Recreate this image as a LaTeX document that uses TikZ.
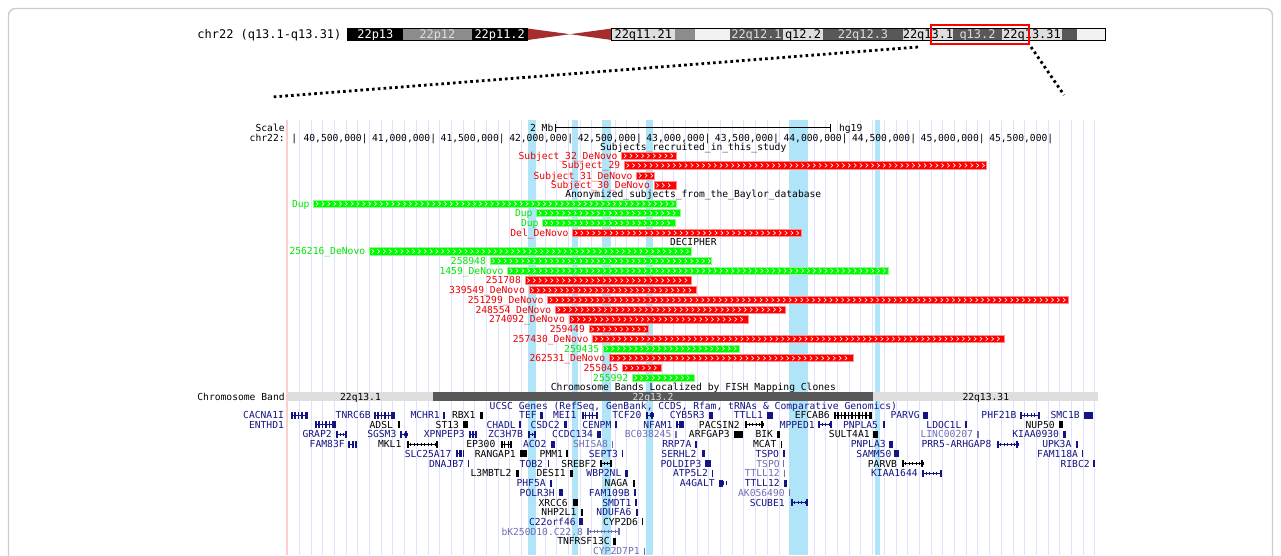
\documentclass[tikz,border=0pt]{standalone}
\usepackage{fontspec}
\setmonofont{DejaVu Sans Mono}
\usepackage{tikz}
\usetikzlibrary{positioning}
\definecolor{cytoDark}{RGB}{88,88,88}
\definecolor{cytoMid}{RGB}{140,140,140}
\definecolor{cytoLight}{RGB}{222,222,222}
\definecolor{cytoPale}{RGB}{242,242,242}
\definecolor{cenRed}{RGB}{165,45,45}
\definecolor{gridLav}{RGB}{224,224,255}
\definecolor{hiBlue}{RGB}{176,228,248}
\definecolor{basePink}{RGB}{255,205,205}
\definecolor{cnvRed}{RGB}{255,0,0}
\definecolor{cnvGreen}{RGB}{0,250,0}
\definecolor{geneBlue}{RGB}{20,20,130}
\definecolor{geneLight}{RGB}{110,110,180}
\definecolor{framegray}{RGB}{205,205,205}
\newcommand{\trackfont}{\fontsize{5.5pt}{6pt}\selectfont\ttfamily}
\newcommand{\ideofont}{\fontsize{6.8pt}{7pt}\selectfont\ttfamily}

\begin{document}
\begin{tikzpicture}[
  x=0.02cm, y=-0.02cm,
  lbl/.style={inner sep=0pt, anchor=east, font=\trackfont, text height=4pt, text depth=0pt},
  ttl/.style={inner sep=0pt, font=\trackfont, text height=4pt, text depth=0pt},
  ideo/.style={inner sep=0pt, font=\ideofont, text height=4.9pt, text depth=0pt},
  guide/.style={draw=gridLav, line width=0.5pt},
  chev/.style={draw=white, line width=0.35pt},
  zoomline/.style={line width=1.6pt, dash pattern=on 1.5pt off 1.8pt}
]
\useasboundingbox (0,0) rectangle (1281,555);
\clip (0,0) rectangle (1281,555);
\fill[white] (0,0) rectangle (1281,555);
\draw[framegray, line width=0.8pt, rounded corners=4pt] (8.5,8.5) rectangle (1272.5,620);

% ideogram
\node[ideo, anchor=east] (chrname) at (341.7,34.3) {chr22 (q13.1-q13.31)};
\foreach \xa/\xb/\bfill/\tc/\lab in {347.7/403/black/white/22p13,403/471.7/cytoMid/cytoLight/22p12,
  471.7/527.7/black/white/22p11.2,611.7/675/cytoLight/black/22q11.21,675/695/cytoMid/black/{},
  695/730/cytoPale/black/{},730/783/cytoDark/cytoLight/22q12.1,783/823/cytoLight/black/q12.2,
  823/903/cytoDark/cytoLight/22q12.3,903/953/cytoLight/black/22q13.1,953/1002/cytoDark/cytoLight/q13.2,
  1002/1062/cytoLight/black/22q13.31,1062/1077/cytoDark/black/{},1077/1105/cytoPale/black/{}}
{
  \fill[\bfill] (\xa,28.5) rectangle (\xb,40);
  \node[ideo, text=\tc] at ({(\xa+\xb)/2},34.3) {\lab};
}
\fill[cenRed] (527.7,28.5) -- (570,34.2) -- (527.7,40) -- cycle;
\fill[cenRed] (611.7,28.5) -- (570,34.2) -- (611.7,40) -- cycle;
\draw[line width=0.5pt] (347.7,28.5) rectangle (527.7,40);
\draw[line width=0.5pt] (611.7,28.5) rectangle (1105,40);
\draw[red, line width=1.6pt] (931,25) rectangle (1029,44);

% zoom lines
\coordinate (selL) at (918,47);
\coordinate (selR) at (1031,47);
\coordinate (panelL) at (272,97);
\coordinate (panelR) at (1064,95);
\draw[zoomline] (selL) -- (panelL);
\draw[zoomline] (selR) -- (panelR);

% browser background
\foreach \i in {0,...,68}
  \draw[guide] (299.3+11.7*\i,120) -- (299.3+11.7*\i,555);
\foreach \xa/\xb in {528.3/536,571.7/578.3,601.7/611,646/653.3,789.3/808.3,875/880}
  \fill[hiBlue] (\xa,120) rectangle (\xb,555);
\draw[basePink, line width=0.6pt] (287,120) -- (287,555);

% ruler
\node[lbl] (scalelbl) at (285,127.7) {Scale};
\node[lbl] (chrlbl) at (285,138.3) {chr22:};
\coordinate (sbL) at (555.7,127.7);
\coordinate (sbR) at (830.7,127.7);
\draw[line width=0.5pt] (sbL) -- (sbR);
\draw[line width=0.5pt] (555.7,123.5) -- (555.7,132);
\draw[line width=0.5pt] (830.7,123.5) -- (830.7,132);
\node[lbl, left=0.4mm of sbL] (mb) {2 Mb};
\node[lbl, right=1.6mm of sbR] (hg) {hg19};
\node[ttl] (tick-start) at (294.3,138.3) {|};
\foreach \lab [count=\k from 0] in {{40,500,000},{41,000,000},{41,500,000},{42,000,000},{42,500,000},
  {43,000,000},{43,500,000},{44,000,000},{44,500,000},{45,000,000},{45,500,000}}
  \node[lbl] (tick\k) at (365+68.57*\k+2.9,138.3) {\lab|};

% track titles
\node[ttl] (t-subj) at (693.3,146.6) {Subjects\_recruited\_in\_this\_study};
\node[ttl] (t-baylor) at (693.3,194.4) {Anonymized\_subjects\_from\_the\_Baylor\_database};
\node[ttl] (t-decipher) at (693.3,241.7) {DECIPHER};
\node[ttl] (t-fish) at (693.3,386.8) {Chromosome Bands Localized by FISH Mapping Clones};
\node[ttl, text=geneBlue] (t-ucsc) at (693.3,405.8) {UCSC Genes (RefSeq, GenBank, CCDS, Rfam, tRNAs \& Comparative Genomics)};

% CNV bars
\foreach \lab/\yy/\xa/\xb/\cc [count=\i] in {Subject\_32\_DeNovo/155.8/621.7/676/cnvRed,
  Subject\_29/165.4/624.3/986.7/cnvRed,Subject\_31\_DeNovo/175.6/636.7/654.3/cnvRed,
  Subject\_30\_DeNovo/185.3/654/676/cnvRed,Dup/203.7/313.7/676/cnvGreen,
  Dup/213.2/536.7/680.7/cnvGreen,Dup/223/542.7/675/cnvGreen,Del\_DeNovo/233/572.7/801.7/cnvRed,
  256216\_DeNovo/251.3/369.3/691.7/cnvGreen,258948/261/490/711.7/cnvGreen,
  1459\_DeNovo/270.7/507.7/888.3/cnvGreen,251708/280.4/525/691.7/cnvRed,
  339549\_DeNovo/290.2/529/696/cnvRed,251299\_DeNovo/299.9/547.7/1068.3/cnvRed,
  248554\_DeNovo/309.6/555.3/785/cnvRed,274092\_DeNovo/319.3/569/748.3/cnvRed,
  259449/329.1/589/648.3/cnvRed,257430\_DeNovo/338.8/592.7/1004/cnvRed,
  259435/348.5/603.3/739.3/cnvGreen,262531\_DeNovo/358.2/609.3/853.3/cnvRed,
  255045/367.9/622.7/661.7/cnvRed,255992/377.7/632.3/694.3/cnvGreen}
{
  \filldraw[fill=\cc, draw=\cc!45!white, line width=0.4pt] (\xa,\yy-3.6) rectangle (\xb,\yy+3.6);
  \node[lbl, text=\cc!92!black] (cnv\i) at (\xa-3.8,\yy) {\lab};
  \pgfmathsetmacro\cA{\xa+3.5}
  \pgfmathsetmacro\cB{\xa+9.33}
  \pgfmathsetmacro\cZ{\xb-2}
  \foreach \cx in {\cA,\cB,...,\cZ}
    \draw[chev] (\cx-1.2,\yy-2) -- (\cx+1,\yy) -- (\cx-1.2,\yy+2);
}

% chromosome band
\node[lbl] (bandlbl) at (285,396.6) {Chromosome Band};
\fill[cytoLight] (288.3,392.3) rectangle (432.7,401);
\fill[cytoDark] (432.7,392.3) rectangle (873.3,401);
\fill[cytoLight] (873.3,392.3) rectangle (1098.3,401);
\node[ttl] (band1) at (360.5,396.6) {22q13.1};
\node[ttl, text=cytoLight] (band2) at (653,396.6) {22q13.2};
\node[ttl] (band3) at (985.8,396.6) {22q13.31};

% genes
\foreach \nm/\xe/\yy/\gc/\icA/\icB/\gk [count=\i] in {CACNA1I/284.3/415/geneBlue/291/307.7/m,
  TNRC6B/371/415/geneBlue/374/395/m,MCHR1/440/415/geneBlue/443/444.5/b,RBX1/475.7/415/black/480/483.3/b,
  TEF/537/415/geneBlue/540/543/b,MEI1/576.7/415/geneBlue/581.7/598.3/m,TCF20/641.7/415/geneBlue/646/653.3/l,
  CYB5R3/705/415/geneBlue/709.3/713.3/b,TTLL1/763.3/415/geneBlue/767.3/773.3/b,EFCAB6/830/415/black/834/871.7/m,
  PARVG/920/415/geneBlue/923.3/928.3/b,PHF21B/1016.7/415/geneBlue/1020/1040/l,SMC1B/1080/415/geneBlue/1084/1093.3/b,
  ENTHD1/284.3/424.7/geneBlue/315/336/m,ADSL/393.3/424.7/black/397.7/400/b,ST13/459.3/424.7/black/463.3/468.3/b,
  CHADL/516/424.7/geneBlue/518.5/521/b,CSDC2/560/424.7/geneBlue/564/566.7/b,CENPM/611.7/424.7/geneBlue/615/617/b,
  NFAM1/672.7/424.7/geneBlue/676/683.3/m,PACSIN2/740/424.7/black/745/763.3/l,MPPED1/815/424.7/geneBlue/818.3/831.7/l,
  PNPLA5/878.3/424.7/geneBlue/883/885/b,LDOC1L/961.7/424.7/geneBlue/965/967/b,NUP50/1055/424.7/black/1059.3/1062.7/b,
  GRAP2/332/434.4/geneBlue/336/346.7/l,SGSM3/396.7/434.4/geneBlue/400/406.7/l,XPNPEP3/465/434.4/geneBlue/469/476.7/m,
  ZC3H7B/523.3/434.4/geneBlue/528.3/536/l,CCDC134/593.3/434.4/geneBlue/597.3/600.7/b,
  BC038245/671.7/434.4/geneLight/675/676.5/b,ARFGAP3/730/434.4/black/734/743.3/b,BIK/773.3/434.4/black/776.7/780/b,
  SULT4A1/870/434.4/black/873.3/878.3/b,LINC00207/973.3/434.4/geneLight/977/978.5/b,
  KIAA0930/1059.3/434.4/geneBlue/1063.3/1065.7/b,
  FAM83F/345/444.2/geneBlue/348.3/354/m,MKL1/401.7/444.2/black/406.7/438.3/l,EP300/495.7/444.2/black/500.7/511.7/m,
  ACO2/546.7/444.2/geneBlue/551/555/b,SHISA8/608.3/444.2/geneLight/611.5/613/b,RRP7A/691.7/444.2/geneBlue/695/697/b,
  MCAT/776.7/444.2/black/780.5/782/b,PNPLA3/886/444.2/geneBlue/889.3/893.3/b,
  PRR5-ARHGAP8/991.7/444.2/geneBlue/996.7/1018.3/l,UPK3A/1071.7/444.2/geneBlue/1075.5/1078/b,
  SLC25A17/451.7/453.9/geneBlue/455.7/462.3/m,RANGAP1/516/453.9/black/520/526.7/b,PMM1/563.3/453.9/black/566/568/b,
  SEPT3/618.3/453.9/geneBlue/621.5/623/b,SERHL2/696.7/453.9/geneBlue/701.7/705/b,TSPO/779.3/453.9/geneBlue/783/784.5/b,
  SAMM50/891.7/453.9/geneBlue/894.3/899.3/b,FAM118A/1078.3/453.9/geneBlue/1081.5/1083/b,
  DNAJB7/464.3/463.6/geneBlue/467.5/468.7/b,TOB2/543.3/463.6/geneBlue/547.5/549/b,SREBF2/596.7/463.6/black/600/611.7/l,
  POLDIP3/701.7/463.6/geneBlue/705/710.7/b,TSPO/780/463.6/geneLight/783/784/b,PARVB/897.3/463.6/black/901.7/923.3/l,
  RIBC2/1090/463.6/geneBlue/1093/1095/b,
  L3MBTL2/511.7/473.3/black/515.7/519.3/b,DESI1/566/473.3/black/570/572.7/b,WBP2NL/621.7/473.3/geneBlue/625/628.3/b,
  ATP5L2/708.3/473.3/geneBlue/712/713.2/b,TTLL12/780/473.3/geneLight/784/785/b,KIAA1644/918/473.3/geneBlue/922/942/l,
  PHF5A/546/483/geneBlue/550/551.5/b,NAGA/628.3/483/black/632.7/635.3/b,A4GALT/715/483/geneBlue/719.3/723.3/l,
  TTLL12/780/483/geneBlue/784.3/787.3/b,
  POLR3H/555/492.8/geneBlue/559/563/b,FAM109B/630/492.8/geneBlue/634/636/b,AK056490/785/492.8/geneLight/788.5/790/b,
  XRCC6/568/502.5/black/572.7/578.3/b,SMDT1/631.7/502.5/geneBlue/635/637/b,SCUBE1/785/502.5/geneBlue/790.7/808.3/l,
  NHP2L1/576.7/512.2/black/580.7/582.7/b,NDUFA6/631.7/512.2/geneBlue/636/637.5/b,
  C22orf46/576/521.9/geneBlue/579.3/583.3/b,CYP2D6/638.3/521.9/black/641.5/643/b,
  bK250D10.C22.8/583.3/531.6/geneLight/586.7/620/l,TNFRSF13C/610/541.4/black/613.3/616/b,
  CYP2D7P1/640/551.1/geneLight/643.5/645/b}
{
  \node[lbl, text=\gc] (gene\i) at (\xe,\yy) {\nm};
  \if\gk b
    \fill[\gc] (\icA,\yy-3.5) rectangle (\icB,\yy+3.5);
  \else
    \draw[\gc, line width=0.5pt] (\icA,\yy) -- (\icB,\yy);
    \fill[\gc] (\icA,\yy-3.5) rectangle (\icA+2,\yy+3.5);
    \fill[\gc] (\icB-2,\yy-3.5) rectangle (\icB,\yy+3.5);
    \pgfmathsetmacro\kA{\icA+4}
    \pgfmathsetmacro\kB{\icA+7.5}
    \if\gk m
      \foreach \q in {\kA,\kB,...,\icB}
        \fill[\gc] (\q-0.7,\yy-3.5) rectangle (\q+0.7,\yy+3.5);
    \else
      \foreach \q in {\kA,\kB,...,\icB}
        \draw[\gc, line width=0.4pt] (\q,\yy-1.6) -- (\q,\yy+1.6);
    \fi
  \fi
}
\end{tikzpicture}
\end{document}
